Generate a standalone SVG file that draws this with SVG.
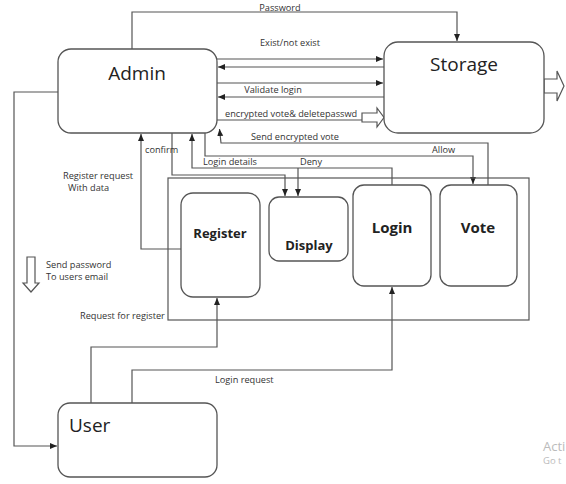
<svg xmlns="http://www.w3.org/2000/svg" width="566" height="484" viewBox="0 0 566 484">
<defs>
<marker id="ah" markerUnits="userSpaceOnUse" markerWidth="8" markerHeight="8" viewBox="0 0 8 8" refX="7" refY="4" orient="auto">
<path d="M0,1 L7,4 L0,7 Z" fill="#222"/>
</marker>
</defs>
<style>
.box{fill:#fff;stroke:#555;stroke-width:1.3}
.ln{fill:none;stroke:#555;stroke-width:1.2}
.hol{fill:#fff;stroke:#555;stroke-width:1.2}
.big{font-family:"Open Sans","Noto Sans",sans-serif;font-size:19px;fill:#222}
.bold{font-family:"Open Sans","Noto Sans",sans-serif;font-size:13px;font-weight:bold;fill:#222}
.bold2{font-family:"Open Sans","Noto Sans",sans-serif;font-size:15px;font-weight:bold;fill:#222}
.lbl{font-family:"Open Sans","Noto Sans",sans-serif;font-size:9.2px;fill:#333}
.wm{font-family:"Open Sans","Noto Sans",sans-serif;fill:#bbb}
</style>
<rect width="566" height="484" fill="#fff"/>

<g id="connectors">
<path class="ln" d="M132,49 V12 H457 V41" marker-end="url(#ah)"/>
<path class="ln" d="M217,59 H383" marker-end="url(#ah)"/>
<path class="ln" d="M384,67 H218" marker-end="url(#ah)"/>
<path class="ln" d="M217,83 H383" marker-end="url(#ah)"/>
<path class="ln" d="M384,97 H218" marker-end="url(#ah)"/>
<path class="ln" d="M217,120 H362"/>
<path class="hol" d="M362,113 H377 V108 L384,117.5 L377,127 V122 H362 Z"/>
<path class="hol" d="M544,79 H557 V71 L564,86 L557,101 V93 H544 Z"/>
<path class="ln" d="M488,185 V143 H221 L219.5,129" marker-end="url(#ah)"/>
<path class="ln" d="M205,133 V156 H473 V184" marker-end="url(#ah)"/>
<path class="ln" d="M392,185 V168 H192 V134" marker-end="url(#ah)"/>
<path class="ln" d="M298,168 V196" marker-end="url(#ah)"/>
<path class="ln" d="M172,133 V175 H285 V196" marker-end="url(#ah)"/>
<path class="ln" d="M181,249 H141 V134" marker-end="url(#ah)"/>
<path class="ln" d="M58,92 H14 V446 H57" marker-end="url(#ah)"/>
<path class="ln" d="M91,403 V347 H217 V298" marker-end="url(#ah)"/>
<path class="ln" d="M132,403 V370 H392 V287" marker-end="url(#ah)"/>
<path class="hol" d="M27,257 H35 V283 H39 L31,292 L23,283 H27 Z"/>
</g>

<g id="labels">
<text class="lbl" x="280" y="11" text-anchor="middle">Password</text>
<text class="lbl" x="290" y="46" text-anchor="middle">Exist/not exist</text>
<text class="lbl" x="273" y="93" text-anchor="middle">Validate login</text>
<text class="lbl" x="225" y="117">encrypted vote&amp; deletepasswd</text>
<text class="lbl" x="251" y="140">Send encrypted vote</text>
<text class="lbl" x="432" y="153">Allow</text>
<text class="lbl" x="145" y="153">confirm</text>
<text class="lbl" x="203" y="165">Login details</text>
<text class="lbl" x="300" y="165">Deny</text>
<text class="lbl" x="63" y="179">Register request</text>
<text class="lbl" x="68" y="191">With data</text>
<text class="lbl" x="46" y="268">Send password</text>
<text class="lbl" x="46" y="280">To users email</text>
<text class="lbl" x="80" y="319">Request for register</text>
<text class="lbl" x="215" y="383">Login request</text>
</g>

<g id="panel">
<rect x="168" y="178" width="361" height="142" fill="none" stroke="#555" stroke-width="1.2"/>
</g>

<g id="admin">
<rect class="box" x="58" y="49" width="159" height="84" rx="13"/>
<text class="big" x="137" y="80" text-anchor="middle">Admin</text>
</g>
<g id="storage">
<rect class="box" x="384" y="42" width="160" height="91" rx="14"/>
<text class="big" x="464" y="71" text-anchor="middle">Storage</text>
</g>
<g id="register">
<rect class="box" x="181" y="193" width="79" height="104" rx="12"/>
<text class="bold" x="220" y="238" text-anchor="middle">Register</text>
</g>
<g id="display">
<rect class="box" x="269" y="197" width="79" height="64" rx="10"/>
<text class="bold" x="309" y="250" text-anchor="middle">Display</text>
</g>
<g id="login">
<rect class="box" x="353" y="185" width="78" height="101" rx="11"/>
<text class="bold2" x="392" y="233" text-anchor="middle">Login</text>
</g>
<g id="vote">
<rect class="box" x="440" y="185" width="77" height="101" rx="11"/>
<text class="bold2" x="478" y="233" text-anchor="middle">Vote</text>
</g>
<g id="user">
<rect class="box" x="58" y="403" width="159" height="74" rx="12"/>
<text class="big" x="69" y="432">User</text>
</g>

<g id="watermark">
<text class="wm" x="543" y="451" font-size="13">Acti</text>
<text class="wm" x="543" y="464" font-size="9.5">Go t</text>
</g>
</svg>
